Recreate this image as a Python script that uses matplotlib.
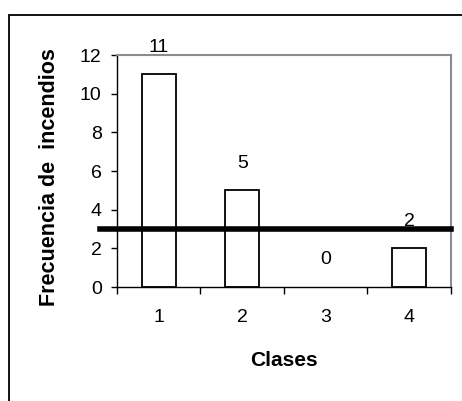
import matplotlib
matplotlib.use('Agg')
import matplotlib.pyplot as plt
from matplotlib.patches import Rectangle

# data
clases = ['1', '2', '3', '4']
frecuencia = [11, 5, 0, 2]
umbral = 3

plt.rcParams['font.family'] = ['Liberation Sans', 'DejaVu Sans']

fig = plt.figure(figsize=(4.62, 4.01), dpi=100)
ax = fig.add_axes([117 / 462, 1 - 287 / 401, 334 / 462, 232 / 401])

x = list(range(len(clases)))
# a zero-height bar shows no outline in the reference
edge_w = [1.3 if v > 0 else 0 for v in frecuencia]
ax.bar(x, frecuencia, width=0.41, facecolor='white', edgecolor='black', linewidth=edge_w, zorder=2)

for xi, v in zip(x, frecuencia):
    ax.annotate(str(v), (xi, v), xytext=(0, 19.5), textcoords='offset points',
                ha='center', va='center', fontsize=14, zorder=4, annotation_clip=False)

ax.axhline(umbral, xmin=-0.051, xmax=1, color='black', linewidth=4, clip_on=False, zorder=3)

ax.set_xlim(-0.5, len(clases) - 0.5)
ax.set_ylim(0, 12)
ax.set_yticks(range(0, 13, 2))
ax.set_xticks(x)
ax.set_xticklabels(clases)
ax.set_xticks([i - 0.5 for i in range(len(clases) + 1)], minor=True)
ax.tick_params(axis='x', which='major', length=0, pad=16, labelsize=14)
ax.tick_params(axis='x', which='minor', length=5, width=1, direction='out')
ax.tick_params(axis='y', length=4, width=1, pad=7, labelsize=14)

for s in ['left', 'bottom']:
    ax.spines[s].set_color('black')
    ax.spines[s].set_linewidth(1)
for s in ['top', 'right']:
    ax.spines[s].set_color('#8c8c8c')
    ax.spines[s].set_linewidth(1.5)

ax.set_xlabel('Clases', fontsize=15, fontweight='bold', labelpad=18)
ax.set_ylabel('Frecuencia de  incendios', fontsize=15.5, fontweight='bold')
ax.yaxis.set_label_coords(-57 / 334, 0.474)

# outer chart-area frame, running off the right and bottom edges
fig.patches.append(Rectangle((8.5 / 462, -0.1), 1.2, 1 - 14.5 / 401 + 0.1,
                             transform=fig.transFigure, fill=False,
                             edgecolor='black', linewidth=1.3))

fig.savefig('out.png', dpi=100)
